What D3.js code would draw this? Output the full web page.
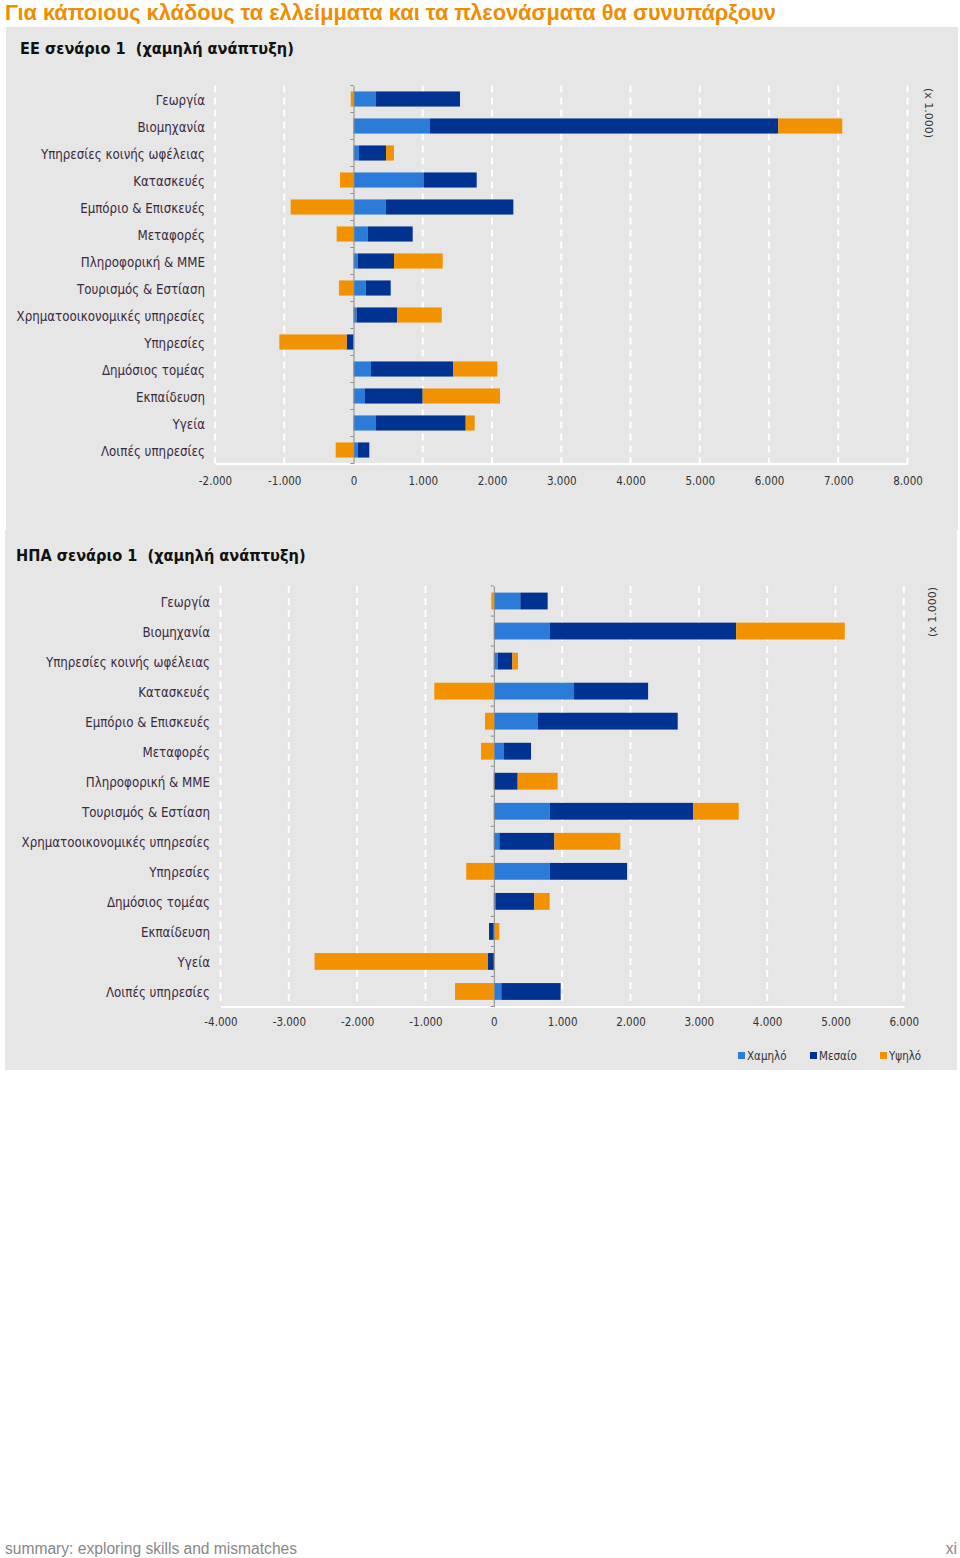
<!DOCTYPE html>
<html lang="el">
<head>
<meta charset="utf-8">
<script src="https://d3js.org/d3.v7.min.js"></script>
<style>
  body { margin: 0; background: #fff; }
  svg { display: block; }
</style>
</head>
<body>
<svg id="page" width="960" height="1558"></svg>
<script>
// sectors, same order in both charts
const sectors = ["Γεωργία", "Βιομηχανία", "Υπηρεσίες κοινής ωφέλειας", "Κατασκευές",
  "Εμπόριο & Επισκευές", "Μεταφορές", "Πληροφορική & ΜΜΕ", "Τουρισμός & Εστίαση",
  "Χρηματοοικονομικές υπηρεσίες", "Υπηρεσίες", "Δημόσιος τομέας", "Εκπαίδευση",
  "Υγεία", "Λοιπές υπηρεσίες"];
const levels = ["Χαμηλό", "Μεσαίο", "Υψηλό"];

// EU scenario 1 (thousands)
const euLow  = [325, 1105, 80, 1018, 465, 205, 60, 176, 46, 0, 253, 166, 325, 61];
const euMid  = [1213, 5029, 390, 761, 1843, 650, 525, 361, 586, -98, 1188, 833, 1295, 167];
const euHigh = [-40, 924, 115, -195, -907, -243, 703, -209, 642, -973, 636, 1117, 130, -257];
const euTicks = [-2000, -1000, 0, 1000, 2000, 3000, 4000, 5000, 6000, 7000, 8000];

// US scenario 1 (thousands)
const usLow  = [388, 817, 56, 1174, 641, 143, 0, 817, 81, 817, 32, 0, 0, 110];
const usMid  = [400, 2729, 215, 1084, 2050, 402, 349, 2099, 805, 1133, 561, -70, -85, 868];
const usHigh = [-37, 1590, 83, -871, -129, -187, 585, 668, 966, -403, 224, 81, -2538, -568];
const usTicks = [-4000, -3000, -2000, -1000, 0, 1000, 2000, 3000, 4000, 5000, 6000];

const colors = {"Χαμηλό": "#2b7bd9", "Μεσαίο": "#003391", "Υψηλό": "#f39200"};
// 1.000 style, plain hyphen for negatives
const fmt = v => v === 0 ? "0" : (v < 0 ? "-" : "") + d3.format(",")(Math.abs(v)).replace(/,/g, ".");

const svg = d3.select("#page");

svg.append("text")
  .attr("x", 5).attr("y", 20)
  .attr("font-family", "Liberation Sans, sans-serif")
  .attr("font-weight", "bold").attr("font-size", 21.8)
  .attr("fill", "#f08c00")
  .text("Για κάποιους κλάδους τα ελλείμματα και τα πλεονάσματα θα συνυπάρξουν");

svg.append("rect").attr("x", 6).attr("y", 27).attr("width", 952).attr("height", 503).attr("fill", "#e6e6e6");
svg.append("rect").attr("x", 5).attr("y", 530).attr("width", 952).attr("height", 540).attr("fill", "#e6e6e6");

function drawChart(opt) {
  const rows = sectors.map((s, i) => ({sector: s, "Χαμηλό": opt.low[i], "Μεσαίο": opt.mid[i], "Υψηλό": opt.high[i]}));
  const series = d3.stack().keys(levels).offset(d3.stackOffsetDiverging)(rows);

  const x = d3.scaleLinear().domain(d3.extent(opt.ticks)).range(opt.xr);
  const y = d3.scaleBand().domain(sectors).range(opt.yr).paddingInner(opt.pad).paddingOuter(opt.pad / 2);

  const g = svg.append("g");

  g.append("text")
    .attr("x", opt.titleX).attr("y", opt.titleY)
    .attr("font-family", "DejaVu Sans Condensed, DejaVu Sans, sans-serif")
    .attr("font-weight", "bold").attr("font-size", 16.2).attr("fill", "#111")
    .style("white-space", "pre")
    .text(opt.title);

  // dashed vertical gridlines
  g.selectAll("line.grid").data(opt.ticks.filter(t => t !== 0)).enter().append("line")
    .attr("class", "grid")
    .attr("x1", d => x(d)).attr("x2", d => x(d))
    .attr("y1", opt.yr[0]).attr("y2", opt.yr[1])
    .attr("stroke", "#fff").attr("stroke-width", 2).attr("stroke-dasharray", "7,5");

  // bottom axis
  const xAxis = d3.axisBottom(x).tickValues(opt.ticks).tickFormat(fmt).tickSize(0).tickPadding(opt.tickPad);
  const ax = g.append("g").attr("transform", `translate(0,${opt.yr[1]})`).call(xAxis);
  ax.select(".domain").attr("stroke", "#fff").attr("stroke-width", 2);
  ax.selectAll("text").attr("font-family", "DejaVu Sans Condensed, DejaVu Sans, sans-serif").attr("font-size", 11.5).attr("fill", "#333");

  // bars
  g.selectAll("g.layer").data(series).enter().append("g")
    .attr("class", "layer").attr("fill", d => colors[d.key])
    .selectAll("rect").data(d => d).enter().append("rect")
      .attr("x", d => x(Math.min(d[0], d[1])))
      .attr("width", d => Math.abs(x(d[1]) - x(d[0])))
      .attr("y", d => y(d.data.sector))
      .attr("height", y.bandwidth());

  // zero line with category ticks
  const yAxis = d3.axisLeft(y).tickSize(0).tickFormat("");
  const ay = g.append("g").attr("transform", `translate(${x(0)},0)`).call(yAxis);
  ay.select(".domain").attr("stroke", "#8a8a8a").attr("stroke-width", 1);
  g.selectAll("line.ctick").data(d3.range(sectors.length + 1)).enter().append("line")
    .attr("class", "ctick")
    .attr("x1", x(0) - 3).attr("x2", x(0))
    .attr("y1", i => opt.yr[0] + i * y.step()).attr("y2", i => opt.yr[0] + i * y.step())
    .attr("stroke", "#8a8a8a");

  // category labels
  g.selectAll("text.cat").data(sectors).enter().append("text")
    .attr("class", "cat")
    .attr("x", opt.labelX).attr("y", d => y(d) + y.bandwidth() / 2 + 1)
    .attr("dy", "0.35em").attr("text-anchor", "end")
    .attr("font-family", "DejaVu Sans Condensed, DejaVu Sans, sans-serif")
    .attr("font-size", 13.2).attr("fill", "#3b2a3f")
    .text(d => d);

  g.append("text")
    .attr("transform", `translate(${opt.unitX},${opt.unitY}) rotate(${opt.unitRot})`)
    .attr("text-anchor", "middle").attr("dy", "0.35em")
    .attr("font-family", "DejaVu Sans, sans-serif").attr("font-size", 11).attr("fill", "#333")
    .text("(x 1.000)");
}

drawChart({
  title: "ΕΕ σενάριο 1  (χαμηλή ανάπτυξη)", titleX: 20, titleY: 54,
  low: euLow, mid: euMid, high: euHigh, ticks: euTicks,
  xr: [215, 907.5], yr: [85.5, 463.5], pad: 0.44, labelX: 205, tickPad: 13,
  unitX: 929, unitY: 113, unitRot: 90
});

drawChart({
  title: "ΗΠΑ σενάριο 1  (χαμηλή ανάπτυξη)", titleX: 16, titleY: 561,
  low: usLow, mid: usMid, high: usHigh, ticks: usTicks,
  xr: [220.5, 903.8], yr: [586, 1006.5], pad: 0.44, labelX: 210, tickPad: 11,
  unitX: 932, unitY: 612, unitRot: -90
});

// legend
const legend = svg.append("g").attr("transform", "translate(738,1056)");
const lx = [0, 72, 142];
levels.forEach((k, i) => {
  legend.append("rect").attr("x", lx[i]).attr("y", -4).attr("width", 7).attr("height", 7).attr("fill", colors[k]);
  legend.append("text").attr("x", lx[i] + 9).attr("y", 0).attr("dy", "0.35em")
    .attr("font-family", "DejaVu Sans Condensed, DejaVu Sans, sans-serif").attr("font-size", 11.5).attr("fill", "#333")
    .text(k);
});

// footer
svg.append("text").attr("x", 5).attr("y", 1554)
  .attr("font-family", "Liberation Sans, sans-serif").attr("font-size", 15.6).attr("fill", "#888")
  .text("summary: exploring skills and mismatches");
svg.append("text").attr("x", 957).attr("y", 1554).attr("text-anchor", "end")
  .attr("font-family", "Liberation Sans, sans-serif").attr("font-size", 15.6).attr("fill", "#888")
  .text("xi");
</script>
</body>
</html>
